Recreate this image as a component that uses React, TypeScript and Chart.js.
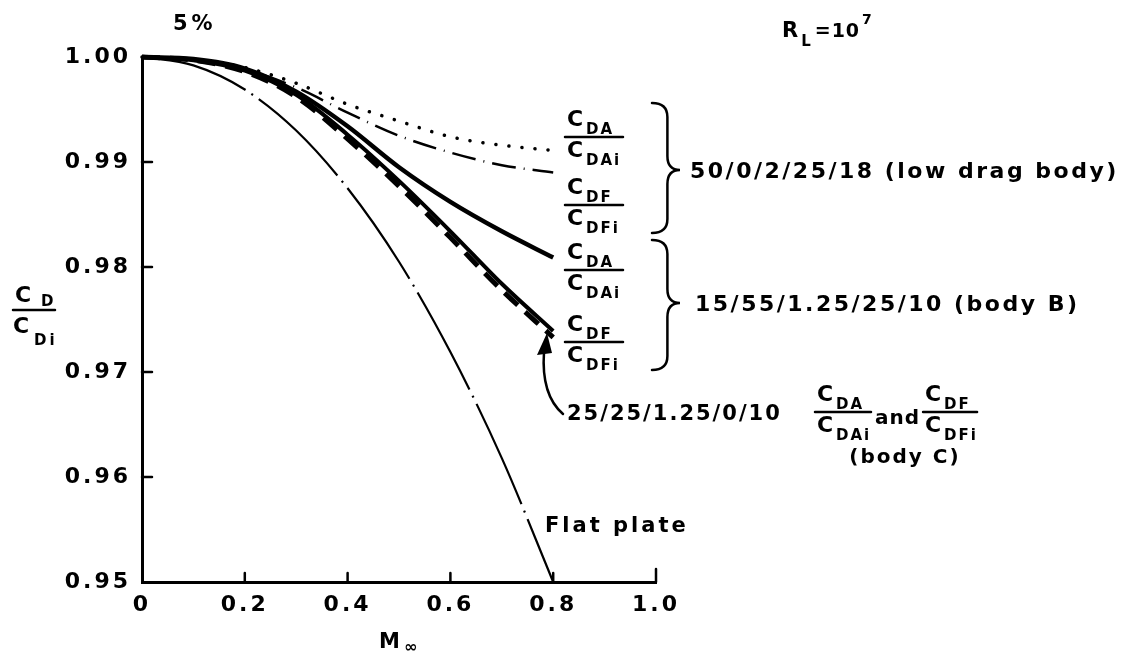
import { useEffect, useRef } from "react";
import { Chart, registerables } from "chart.js";

Chart.register(...registerables);

// Free-stream Mach number stations
const machNumbers = [0, 0.1, 0.2, 0.3, 0.4, 0.5, 0.6, 0.7, 0.8];

// 50/0/2/25/18 low drag body
const lowDragPressure = [1.0, 0.9998, 0.999, 0.9975, 0.9955, 0.9939, 0.9924, 0.9916, 0.9911];
const lowDragFriction = [1.0, 0.9997, 0.9988, 0.9971, 0.9947, 0.9925, 0.9909, 0.9897, 0.989];
// 15/55/1.25/25/10 body B
const bodyBPressure = [1.0, 0.9998, 0.9989, 0.9967, 0.9934, 0.9895, 0.9862, 0.9834, 0.9809];
const bodyBFriction = [1.0, 0.9997, 0.9987, 0.9964, 0.9926, 0.9882, 0.9834, 0.9784, 0.9739];
// 25/25/1.25/0/10 body C (pressure and friction ratios coincide)
const bodyC = [1.0, 0.9997, 0.9986, 0.9962, 0.9922, 0.9877, 0.9828, 0.9778, 0.9733];
// Flat plate
const flatPlate = [1.0, 0.9992, 0.9969, 0.993, 0.9875, 0.9805, 0.9719, 0.9618, 0.95];

const xTicks = [0, 0.2, 0.4, 0.6, 0.8, 1.0];
const yTicks = [0.95, 0.96, 0.97, 0.98, 0.99, 1.0];

const FONT = '"DejaVu Sans"';

const series = (values: number[]) => machNumbers.map((m, i) => ({ x: m, y: values[i] }));

function put(
  ctx: CanvasRenderingContext2D,
  s: string,
  x: number,
  y: number,
  size: number,
  spacing = 2,
  align: CanvasTextAlign = "left"
) {
  ctx.font = `bold ${size}px ${FONT}`;
  (ctx as any).letterSpacing = `${spacing}px`;
  ctx.textAlign = align;
  ctx.textBaseline = "alphabetic";
  ctx.fillText(s, x, y);
  return x + ctx.measureText(s).width;
}

function hline(ctx: CanvasRenderingContext2D, x1: number, x2: number, y: number, w = 2.5) {
  ctx.beginPath();
  ctx.lineWidth = w;
  ctx.moveTo(x1, y);
  ctx.lineTo(x2, y);
  ctx.stroke();
}

// C_xx over C_xxi fraction
function fraction(ctx: CanvasRenderingContext2D, x: number, lineY: number, top: string, bottom: string, width: number) {
  put(ctx, "C", x + 2, lineY - 11, 22, 0);
  put(ctx, top, x + 21, lineY - 3, 15, 2);
  hline(ctx, x, x + width, lineY);
  put(ctx, "C", x + 2, lineY + 20, 22, 0);
  put(ctx, bottom, x + 21, lineY + 28, 15, 2);
}

function brace(ctx: CanvasRenderingContext2D, x: number, yTop: number, yBot: number, tipY: number, w: number) {
  const xm = x + w * 0.55;
  ctx.beginPath();
  ctx.lineWidth = 2.5;
  ctx.moveTo(x, yTop);
  ctx.quadraticCurveTo(xm, yTop, xm, yTop + 14);
  ctx.lineTo(xm, tipY - 14);
  ctx.quadraticCurveTo(xm, tipY, x + w, tipY);
  ctx.quadraticCurveTo(xm, tipY, xm, tipY + 14);
  ctx.lineTo(xm, yBot - 14);
  ctx.quadraticCurveTo(xm, yBot, x, yBot);
  ctx.stroke();
}

const annotations = {
  id: "annotations",
  beforeDraw(chart: Chart) {
    (chart.ctx as any).letterSpacing = "3px";
  },
  afterDraw(chart: Chart) {
    const ctx = chart.ctx;
    const xs = chart.scales.x;
    const ys = chart.scales.y;
    const { left, bottom } = chart.chartArea;
    ctx.save();
    ctx.fillStyle = "#000";
    ctx.strokeStyle = "#000";
    ctx.lineCap = "round";

    // inward tick marks
    yTicks.slice(1, -1).forEach((v) => {
      const y = ys.getPixelForValue(v);
      hline(ctx, left, left + 10, y, 2.5);
    });
    xTicks.slice(1).forEach((v, i, arr) => {
      const x = xs.getPixelForValue(v);
      ctx.beginPath();
      ctx.lineWidth = 2.5;
      ctx.moveTo(x, bottom);
      ctx.lineTo(x, bottom - (i === arr.length - 1 ? 13 : 9));
      ctx.stroke();
    });

    // y-axis title C_D / C_Di
    put(ctx, "C", 15, 302, 22, 0);
    put(ctx, "D", 41, 306, 15, 0);
    hline(ctx, 13, 55, 310);
    put(ctx, "C", 13, 333, 22, 0);
    put(ctx, "Di", 34, 345, 15, 3);

    // x-axis title M∞
    const mx = xs.getPixelForValue(0.5) - 20;
    const mEnd = put(ctx, "M", mx, 648, 21, 0);
    put(ctx, "\u221e", mEnd + 4, 652, 16, 0);

    // header texts
    put(ctx, "5%", 173, 30, 21, 4);
    let rx = put(ctx, "R", 782, 37, 21, 0);
    rx = put(ctx, "L", rx + 3, 46, 15, 0);
    rx = put(ctx, "=10", rx + 4, 37, 19, 1);
    put(ctx, "7", rx + 2, 24, 14, 0);

    // ratio labels at the curve ends
    fraction(ctx, 565, 137, "DA", "DAi", 58);
    fraction(ctx, 565, 205, "DF", "DFi", 58);
    fraction(ctx, 565, 270, "DA", "DAi", 58);
    fraction(ctx, 565, 342, "DF", "DFi", 58);

    brace(ctx, 652, 103, 233, 170, 28);
    brace(ctx, 652, 240, 370, 303, 28);
    put(ctx, "50/0/2/25/18 (low drag body)", 690, 178, 22, 2.5);
    put(ctx, "15/55/1.25/25/10 (body B)", 695, 311, 22, 2.5);

    // body C label with arrow
    put(ctx, "25/25/1.25/0/10", 567, 420, 21, 2);
    fraction(ctx, 815, 412, "DA", "DAi", 56);
    const andEnd = put(ctx, "and", 875, 424, 20, 1);
    fraction(ctx, andEnd + 3, 412, "DF", "DFi", 54);
    put(ctx, "(body C)", 905, 463, 20, 2, "center");

    ctx.beginPath();
    ctx.lineWidth = 2.5;
    ctx.moveTo(563, 414);
    ctx.quadraticCurveTo(541, 395, 544, 352);
    ctx.stroke();
    ctx.beginPath();
    ctx.moveTo(547, 333);
    ctx.lineTo(537, 355);
    ctx.lineTo(552, 353);
    ctx.closePath();
    ctx.fill();

    put(ctx, "Flat plate", 545, 532, 21, 3);

    ctx.restore();
    (ctx as any).letterSpacing = "0px";
  },
};

export default function App() {
  const canvasRef = useRef<HTMLCanvasElement | null>(null);

  useEffect(() => {
    const canvas = canvasRef.current;
    if (!canvas) return;
    const solid = { borderColor: "#000", pointRadius: 0, fill: false, clip: false as any, cubicInterpolationMode: "monotone" as const };
    const chart = new Chart(canvas, {
      type: "line",
      data: {
        datasets: [
          { ...solid, label: "low drag CDA", data: series(lowDragPressure), borderWidth: 3.5, borderDash: [0.1, 13], borderCapStyle: "round" },
          { ...solid, label: "low drag CDF", data: series(lowDragFriction), borderWidth: 2.5, borderDash: [24, 8, 1, 8] },
          { ...solid, label: "body B CDA", data: series(bodyBPressure), borderWidth: 4.5 },
          { ...solid, label: "body B CDF", data: series(bodyBFriction), borderWidth: 4 },
          { ...solid, label: "body C", data: series(bodyC), borderWidth: 5, borderDash: [18, 10] },
          { ...solid, label: "flat plate", data: series(flatPlate), borderWidth: 2.2, borderDash: [110, 7, 2, 7] },
        ],
      },
      options: {
        responsive: false,
        animation: false,
        events: [],
        layout: { padding: { left: 0, top: 57, right: 480, bottom: 0 } },
        plugins: { legend: { display: false }, tooltip: { enabled: false } },
        scales: {
          x: {
            type: "linear",
            min: 0,
            max: 1,
            afterBuildTicks: (s: any) => {
              s.ticks = xTicks.map((v) => ({ value: v }));
            },
            afterFit: (s: any) => {
              s.height = 75;
            },
            grid: { display: false, drawTicks: false },
            border: { display: true, color: "#000", width: 3 },
            ticks: {
              color: "#000",
              padding: 10,
              maxRotation: 0,
              font: { family: FONT, weight: "bold", size: 22 },
              callback: (v: any) => (Number(v) === 0 ? "0" : Number(v).toFixed(1)),
            },
          },
          y: {
            type: "linear",
            min: 0.95,
            max: 1.0,
            afterBuildTicks: (s: any) => {
              s.ticks = yTicks.map((v) => ({ value: v }));
            },
            afterFit: (s: any) => {
              s.width = 142;
            },
            grid: { display: false, drawTicks: false },
            border: { display: true, color: "#000", width: 3 },
            ticks: {
              color: "#000",
              padding: 11,
              font: { family: FONT, weight: "bold", size: 22 },
              callback: (v: any) => Number(v).toFixed(2),
            },
          },
        },
      },
      plugins: [annotations],
    });
    return () => chart.destroy();
  }, []);

  return (
    <div style={{ position: "fixed", left: 0, top: 0, width: 1136, height: 657, background: "#fff" }}>
      <canvas ref={canvasRef} width={1136} height={657} style={{ display: "block" }} />
    </div>
  );
}
